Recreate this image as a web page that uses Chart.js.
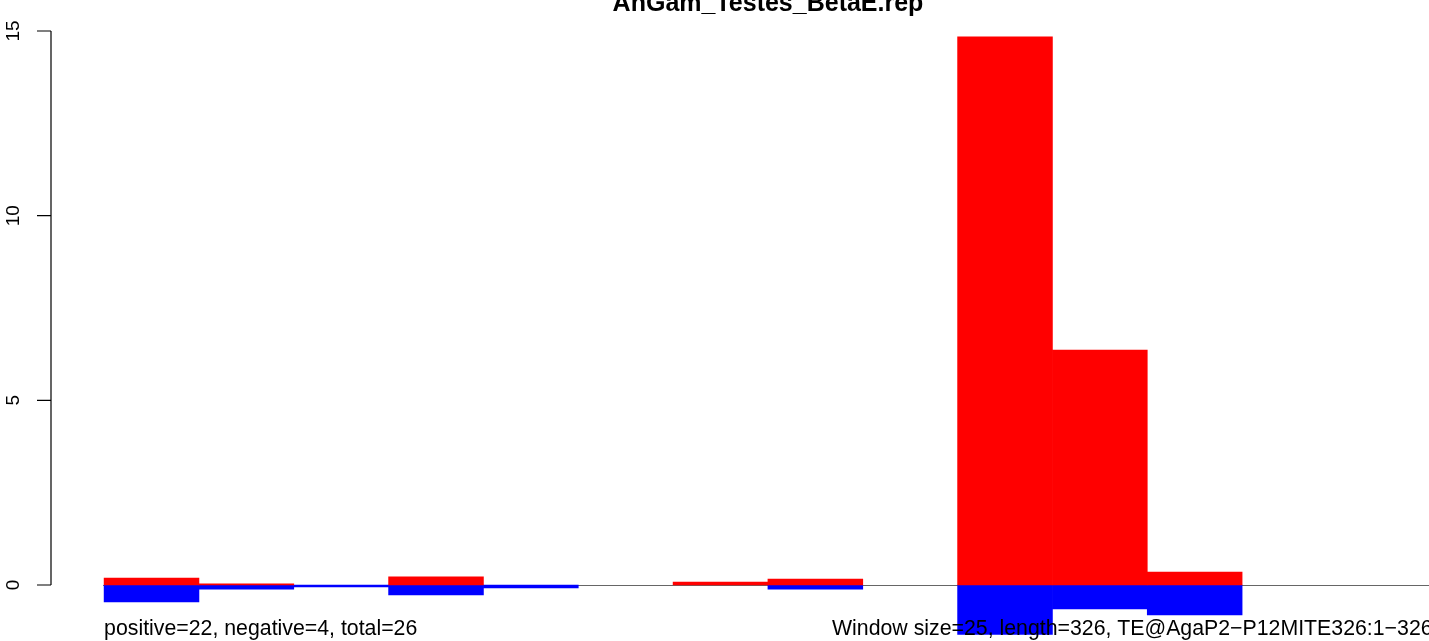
<!DOCTYPE html>
<html>
<head>
<meta charset="utf-8">
<script src="https://cdn.jsdelivr.net/npm/chart.js@4"></script>
<style>
  html, body { margin: 0; padding: 0; background: #fff; overflow: hidden; }
  #wrap { position: relative; width: 1429px; height: 641px; }
</style>
</head>
<body>
<div id="wrap"><canvas id="chart"></canvas></div>
<script>
// ─── Data ──────────────────────────────────────────────────────────────────
const TITLE = 'AnGam_Testes_BetaE.rep';
const WINDOW = 25;
const BIN_STARTS = [0, 25, 50, 75, 100, 125, 150, 175, 200, 225, 250, 275, 300, 325];
const POSITIVE = [0.19, 0.03, 0, 0.22, 0, 0, 0.08, 0.16, 0, 14.84, 6.36, 0.35, 0, 0];
const NEGATIVE = [-0.46, -0.11, -0.05, -0.27, -0.08, 0, 0, -0.11, 0, -1.34, -0.65, -0.81, 0, 0];
const Y_TICKS = [0, 5, 10, 15];
const FOOT_LEFT = 'positive=22, negative=4, total=26';
const FOOT_RIGHT = 'Window size=25, length=326, TE@AgaP2\u2212P12MITE326:1\u2212326';

const RED = '#ff0000';
const BLUE = '#0000ff';
const FONT = '"Liberation Sans", Arial, Helvetica, sans-serif';

// empty windows are left undrawn (only the zero line shows there)
const toPoints = vals => BIN_STARTS.map((s, i) => ({ x: s + WINDOW / 2, y: vals[i] === 0 ? null : vals[i] }));

// ─── R-style decorations ───────────────────────────────────────────────────
const rDecor = {
  id: 'rDecor',
  beforeDatasetsDraw(chart) {
    const { ctx, chartArea, scales: { x, y } } = chart;
    const y0 = Math.round(y.getPixelForValue(0)) + 0.5;
    ctx.save();
    ctx.strokeStyle = '#666666';
    ctx.lineWidth = 1;
    ctx.beginPath();
    ctx.moveTo(x.getPixelForValue(0) - 1, y0);
    ctx.lineTo(chartArea.right, y0);
    ctx.stroke();
    ctx.restore();
  },
  afterDraw(chart) {
    const { ctx, chartArea, scales: { x, y } } = chart;
    ctx.save();
    // y axis
    const ax = chartArea.left;
    ctx.strokeStyle = '#000';
    ctx.lineWidth = 1.2;
    ctx.beginPath();
    ctx.moveTo(ax, y.getPixelForValue(Y_TICKS[0]));
    ctx.lineTo(ax, y.getPixelForValue(Y_TICKS[Y_TICKS.length - 1]));
    Y_TICKS.forEach(t => {
      const py = y.getPixelForValue(t);
      ctx.moveTo(ax - 14, py);
      ctx.lineTo(ax, py);
    });
    ctx.stroke();

    ctx.fillStyle = '#000';
    ctx.font = `19px ${FONT}`;
    ctx.textAlign = 'center';
    ctx.textBaseline = 'middle';
    Y_TICKS.forEach(t => {
      const py = y.getPixelForValue(t);
      ctx.save();
      ctx.translate(14, py);
      ctx.rotate(-Math.PI / 2);
      ctx.fillText(String(t), 0, 0);
      ctx.restore();
    });

    // title (centred on the full R plot region, partly off the top)
    ctx.font = `bold 25px ${FONT}`;
    ctx.textAlign = 'center';
    ctx.textBaseline = 'alphabetic';
    ctx.fillText(TITLE, 768, 11);

    // footer texts
    ctx.font = `21.3px ${FONT}`;
    ctx.textAlign = 'left';
    ctx.fillText(FOOT_LEFT, x.getPixelForValue(0), 635);
    ctx.fillText(FOOT_RIGHT, 832, 635);
    ctx.restore();
  }
};

// ─── Chart ─────────────────────────────────────────────────────────────────
const ctx = document.getElementById('chart').getContext('2d');
new Chart(ctx, {
  type: 'bar',
  data: {
    datasets: [
      { label: 'positive', data: toPoints(POSITIVE),
        backgroundColor: RED, borderWidth: 0, barPercentage: 1, categoryPercentage: 1 },
      { label: 'negative', data: toPoints(NEGATIVE),
        backgroundColor: BLUE, borderWidth: 0, barPercentage: 1, categoryPercentage: 1 },
    ]
  },
  options: {
    responsive: true, maintainAspectRatio: false, animation: false,
    layout: { padding: { left: 51, top: 31, right: 0, bottom: 0 } },
    plugins: { legend: { display: false }, tooltip: { enabled: false } },
    scales: {
      x: {
        type: 'linear', display: false, stacked: true, offset: false, grid: { offset: false },
        min: -14, max: 349.27,
        // ticks on bin edges so the bar ruler uses the full window width
        afterBuildTicks: s => { s.ticks = BIN_STARTS.map(v => ({ value: v })); }
      },
      y: { display: false, stacked: true, min: -1.516, max: 15 }
    }
  },
  plugins: [rDecor]
});
</script>
</body>
</html>
